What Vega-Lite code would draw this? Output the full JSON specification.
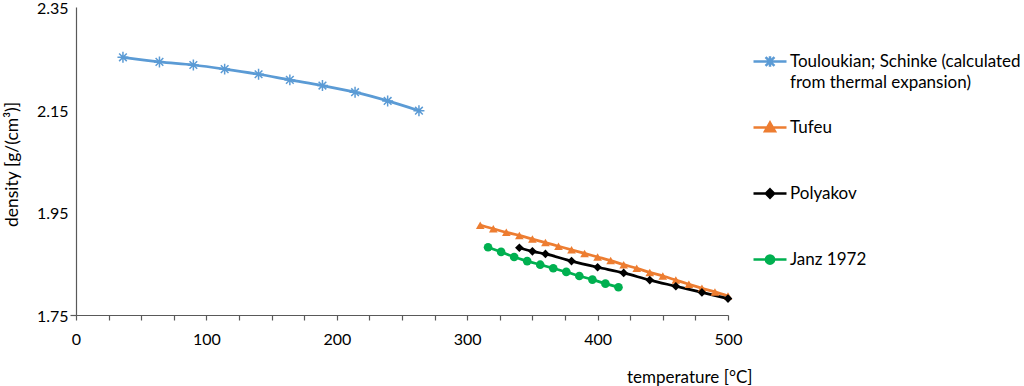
{
  "$schema": "https://vega.github.io/schema/vega-lite/v6.json",
  "width": 652,
  "height": 308,
  "autosize": {"type": "none"},
  "padding": {"left": 76, "top": 7, "right": 296, "bottom": 71},
  "config": {
    "view": {"stroke": null},
    "font": "Lato",
    "axis": {"grid": false, "domainColor": "#595959", "tickColor": "#595959", "labelColor": "#000000", "titleColor": "#000000", "labelFont": "Lato", "titleFont": "Lato", "labelFontSize": 16, "titleFontSize": 17, "titleFontWeight": "normal", "domainWidth": 1.2, "tickWidth": 1.2},
    "legend": {"labelFont": "Lato", "labelFontSize": 17, "labelColor": "#000000"}
  },
  "data": {"values": [
    {"series": "Touloukian; Schinke (calculated from thermal expansion)", "T": 36, "d": 2.252},
    {"series": "Touloukian; Schinke (calculated from thermal expansion)", "T": 64, "d": 2.243},
    {"series": "Touloukian; Schinke (calculated from thermal expansion)", "T": 90, "d": 2.237},
    {"series": "Touloukian; Schinke (calculated from thermal expansion)", "T": 114, "d": 2.229},
    {"series": "Touloukian; Schinke (calculated from thermal expansion)", "T": 140, "d": 2.219},
    {"series": "Touloukian; Schinke (calculated from thermal expansion)", "T": 164, "d": 2.208},
    {"series": "Touloukian; Schinke (calculated from thermal expansion)", "T": 189, "d": 2.197},
    {"series": "Touloukian; Schinke (calculated from thermal expansion)", "T": 214, "d": 2.184},
    {"series": "Touloukian; Schinke (calculated from thermal expansion)", "T": 239, "d": 2.167},
    {"series": "Touloukian; Schinke (calculated from thermal expansion)", "T": 263, "d": 2.148},
    {"series": "Tufeu", "T": 310, "d": 1.925},
    {"series": "Tufeu", "T": 320, "d": 1.918},
    {"series": "Tufeu", "T": 330, "d": 1.911},
    {"series": "Tufeu", "T": 340, "d": 1.905},
    {"series": "Tufeu", "T": 350, "d": 1.898},
    {"series": "Tufeu", "T": 360, "d": 1.891},
    {"series": "Tufeu", "T": 370, "d": 1.884},
    {"series": "Tufeu", "T": 380, "d": 1.877},
    {"series": "Tufeu", "T": 390, "d": 1.870},
    {"series": "Tufeu", "T": 400, "d": 1.863},
    {"series": "Tufeu", "T": 410, "d": 1.856},
    {"series": "Tufeu", "T": 420, "d": 1.848},
    {"series": "Tufeu", "T": 430, "d": 1.841},
    {"series": "Tufeu", "T": 440, "d": 1.833},
    {"series": "Tufeu", "T": 450, "d": 1.826},
    {"series": "Tufeu", "T": 460, "d": 1.818},
    {"series": "Tufeu", "T": 470, "d": 1.810},
    {"series": "Tufeu", "T": 480, "d": 1.802},
    {"series": "Tufeu", "T": 490, "d": 1.795},
    {"series": "Tufeu", "T": 500, "d": 1.787},
    {"series": "Polyakov", "T": 340, "d": 1.881},
    {"series": "Polyakov", "T": 350, "d": 1.874},
    {"series": "Polyakov", "T": 360, "d": 1.869},
    {"series": "Polyakov", "T": 380, "d": 1.855},
    {"series": "Polyakov", "T": 400, "d": 1.843},
    {"series": "Polyakov", "T": 420, "d": 1.832},
    {"series": "Polyakov", "T": 440, "d": 1.818},
    {"series": "Polyakov", "T": 460, "d": 1.806},
    {"series": "Polyakov", "T": 480, "d": 1.794},
    {"series": "Polyakov", "T": 500, "d": 1.782},
    {"series": "Janz 1972", "T": 316, "d": 1.882},
    {"series": "Janz 1972", "T": 326, "d": 1.873},
    {"series": "Janz 1972", "T": 336, "d": 1.863},
    {"series": "Janz 1972", "T": 346, "d": 1.855},
    {"series": "Janz 1972", "T": 356, "d": 1.848},
    {"series": "Janz 1972", "T": 366, "d": 1.841},
    {"series": "Janz 1972", "T": 376, "d": 1.834},
    {"series": "Janz 1972", "T": 386, "d": 1.826},
    {"series": "Janz 1972", "T": 396, "d": 1.819},
    {"series": "Janz 1972", "T": 406, "d": 1.811},
    {"series": "Janz 1972", "T": 416, "d": 1.804}
  ]},
  "encoding": {
    "x": {"field": "T", "type": "quantitative",
      "scale": {"domain": [0, 500], "nice": false, "zero": false},
      "axis": {"values": [0,25,50,75,100,125,150,175,200,225,250,275,300,325,350,375,400,425,450,475,500],
        "labelExpr": "datum.value % 100 === 0 ? datum.label : ''",
        "tickSize": 5, "labelPadding": 11, "labelFlush": false,
        "title": "temperature [°C]", "titleX": 676, "titleY": 62, "titleAlign": "right", "titleBaseline": "middle", "titleAnchor": null}},
    "y": {"field": "d", "type": "quantitative",
      "scale": {"domain": [1.75, 2.35], "nice": false, "zero": false},
      "axis": {"values": [1.75, 1.95, 2.15, 2.35], "format": ".2f", "tickSize": 6,
        "tickColor": {"condition": {"test": "datum.value === 1.75", "value": "#595959"}, "value": "transparent"},
        "labelPadding": 2, "labelFlush": false, "labelBaseline": "middle", "labelOffset": 1.5,
        "title": "density [g/(cm³)]", "titleFontSize": 17.5, "titleX": -64, "titleY": 157, "titleAngle": -90, "titleAlign": "center", "titleBaseline": "middle", "titleAnchor": null}}
  },
  "layer": [
    {
      "mark": {"type": "line", "strokeWidth": 2.75, "interpolate": "monotone"},
      "encoding": {
        "color": {"field": "series", "type": "nominal",
          "scale": {"domain": ["Touloukian; Schinke (calculated from thermal expansion)", "Tufeu", "Polyakov", "Janz 1972"],
                    "range": ["#5B9BD5", "#ED7D31", "#000000", "#00B050"]},
          "legend": {"orient": "none", "legendX": 676, "legendY": 41, "title": null,
            "symbolSize": 1089, "labelOffset": 2, "rowPadding": 23, "clipHeight": 27, "padding": 0, "labelLimit": 300,
            "labelExpr": "datum.value === 'Touloukian; Schinke (calculated from thermal expansion)' ? ['Touloukian; Schinke (calculated', 'from thermal expansion)'] : [datum.label, '']",
            "encode": {
              "symbols": {"update": {
                "shape": {"signal": "datum.value === 'Tufeu' ? 'M-1,0L1,0M0,-0.3L0.3,0.22L-0.3,0.22Z' : datum.value === 'Polyakov' ? 'M-1,0L1,0M0,-0.25L0.25,0L0,0.25L-0.25,0Z' : datum.value === 'Janz 1972' ? 'M-1,0L1,0M-0.25,0A0.25,0.25,0,1,0,0.25,0A0.25,0.25,0,1,0,-0.25,0Z' : 'M-1,0L1,0M-0.27,-0.27L0.27,0.27M-0.27,0.27L0.27,-0.27M0,-0.32L0,0.32'"},
                "fill": {"scale": "color", "field": "value"},
                "stroke": {"scale": "color", "field": "value"},
                "strokeWidth": {"value": 2.5},
                "size": {"value": 1089},
                "opacity": {"value": 1}
              }},
              "labels": {"update": {
                "lineHeight": {"value": 21}
              }}
            }}}
      }
    },
    {
      "transform": [{"filter": "datum.series !== 'Touloukian; Schinke (calculated from thermal expansion)'"}],
      "mark": {"type": "point", "filled": true, "opacity": 1, "size": 75},
      "encoding": {
        "color": {"field": "series", "type": "nominal"},
        "shape": {"field": "series", "type": "nominal",
          "scale": {"domain": ["Tufeu", "Polyakov", "Janz 1972"], "range": ["triangle-up", "diamond", "circle"]},
          "legend": null}
      }
    },
    {
      "transform": [{"filter": "datum.series === 'Touloukian; Schinke (calculated from thermal expansion)'"}],
      "mark": {"type": "point", "filled": false, "opacity": 1, "size": 120, "strokeWidth": 1.5,
        "shape": "M-1,0L1,0M-0.7,-0.7L0.7,0.7M-0.7,0.7L0.7,-0.7M0,-1L0,1"},
      "encoding": {
        "color": {"field": "series", "type": "nominal"}
      }
    }
  ]
}
